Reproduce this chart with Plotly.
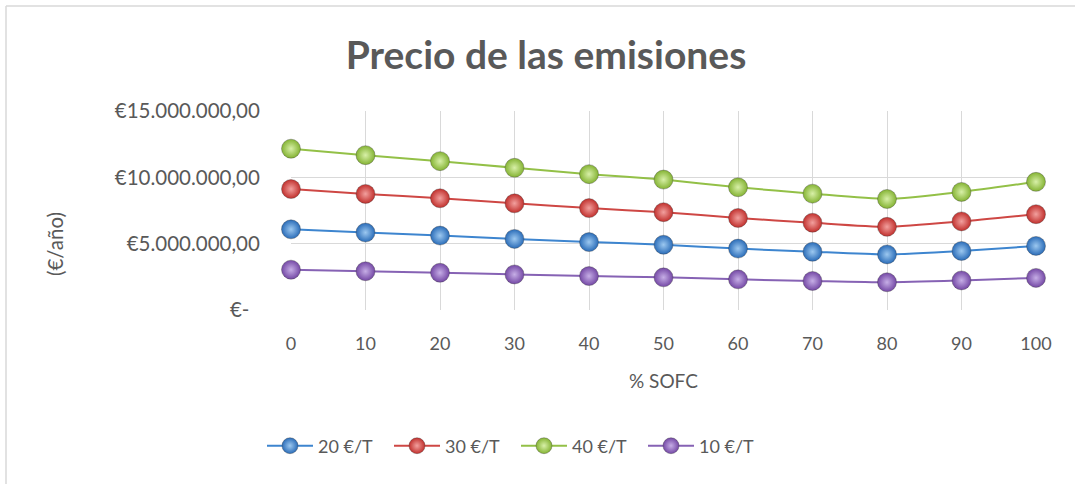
import plotly.graph_objects as go

sofc = [0, 10, 20, 30, 40, 50, 60, 70, 80, 90, 100]
p20 = [6.08e6, 5.84e6, 5.61e6, 5.36e6, 5.12e6, 4.92e6, 4.63e6, 4.39e6, 4.19e6, 4.45e6, 4.83e6]
p30 = [9.12e6, 8.75e6, 8.42e6, 8.04e6, 7.68e6, 7.37e6, 6.94e6, 6.58e6, 6.27e6, 6.68e6, 7.22e6]
p40 = [12.16e6, 11.67e6, 11.22e6, 10.72e6, 10.24e6, 9.83e6, 9.25e6, 8.77e6, 8.37e6, 8.90e6, 9.66e6]
p10 = [3.04e6, 2.92e6, 2.81e6, 2.68e6, 2.56e6, 2.46e6, 2.31e6, 2.19e6, 2.09e6, 2.23e6, 2.42e6]

y_ticks = [0, 5e6, 10e6, 15e6]
y_ticktext = ["€-\u00a0\u00a0", "€5.000.000,00", "€10.000.000,00", "€15.000.000,00"]

series = [
    ("20 €/T", p20, "#3D85CF", "#2A6CB8", "#9CC8F0"),
    ("30 €/T", p30, "#CE4744", "#C1302D", "#F2A09E"),
    ("40 €/T", p40, "#93C047", "#84B333", "#D8F0A8"),
    ("10 €/T", p10, "#8662B4", "#7448A5", "#C6AEE6"),
]

FONT = "Lato, Carlito, Calibri, sans-serif"
GRAY = "#595959"

fig = go.Figure()
for name, vals, lc, mc, hc in series:
    fig.add_trace(go.Scatter(
        x=sofc, y=vals, name=name, mode="lines+markers",
        line=dict(color=lc, width=2, shape="spline", smoothing=0.6),
        marker=dict(size=19, color=mc, line=dict(color="rgba(60,60,60,0.35)", width=1),
                    gradient=dict(type="radial", color=hc)),
        cliponaxis=False,
    ))

W, H = 1075, 484
ml, mr, mt, mb = 291, 39, 111, 174
pw, ph = W - ml - mr, H - mt - mb

def px_x(x):
    return (x - ml) / pw

def px_y(y):
    return (H - mb - y) / ph

fig.update_layout(
    width=W, height=H,
    margin=dict(l=ml, r=mr, t=mt, b=mb),
    paper_bgcolor="white", plot_bgcolor="white",
    font=dict(family=FONT, color=GRAY, size=18),
    title=dict(text="<b>Precio de las emisiones</b>", x=546 / W, xref="container", xanchor="center",
               y=1 - 55 / H, yref="container", yanchor="middle",
               font=dict(size=39, color=GRAY, family=FONT)),
    showlegend=True,
    legend=dict(orientation="h", x=px_x(516), xref="paper", xanchor="center",
                y=px_y(446), yanchor="middle", font=dict(size=18, color=GRAY),
                itemwidth=46, entrywidth=66, entrywidthmode="pixels", tracegroupgap=0),
    xaxis=dict(range=[0, 100], tickmode="array", tickvals=sofc, ticktext=[str(v) for v in sofc],
               showgrid=True, gridcolor="#D9D9D9", gridwidth=1.3, zeroline=False,
               showline=False, ticks="outside", ticklen=17, tickcolor="rgba(0,0,0,0)",
               tickfont=dict(size=18, color=GRAY)),
    yaxis=dict(range=[0, 15e6], tickmode="array", tickvals=y_ticks, ticktext=y_ticktext,
               showgrid=True, gridcolor="#D9D9D9", gridwidth=1.3, zeroline=False,
               showline=False, ticks="outside", ticklen=26, tickcolor="rgba(0,0,0,0)",
               tickfont=dict(size=20.5, color=GRAY)),
    annotations=[
        dict(text="(€/año)", xref="paper", yref="paper", x=px_x(55), y=px_y(244),
             textangle=-90, showarrow=False, xanchor="center", yanchor="middle",
             font=dict(size=20.5, color=GRAY)),
        dict(text="% SOFC", xref="paper", yref="paper", x=px_x(663), y=px_y(380),
             showarrow=False, xanchor="center", yanchor="middle",
             font=dict(size=19, color=GRAY)),
    ],
    shapes=[
        dict(type="line", xref="paper", yref="paper", x0=px_x(6), x1=px_x(1075), y0=px_y(6), y1=px_y(6),
             line=dict(color="#D9D9D9", width=1.5)),
        dict(type="line", xref="paper", yref="paper", x0=px_x(6), x1=px_x(6), y0=px_y(6), y1=px_y(484),
             line=dict(color="#D9D9D9", width=1.5)),
    ],
)

fig.write_html("out.html", config={"displayModeBar": False},
               post_script="document.body.style.margin='0';document.body.style.padding='0';")
